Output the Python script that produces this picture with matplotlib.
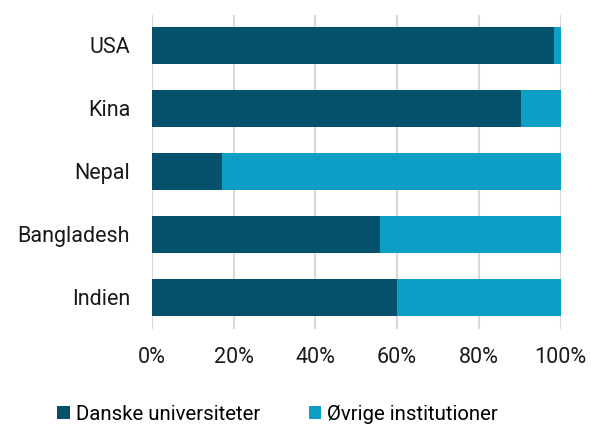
import matplotlib.pyplot as plt
from matplotlib.ticker import PercentFormatter

# Data (share in %), bottom to top
countries = ["Indien", "Bangladesh", "Nepal", "Kina", "USA"]
danske = [59.9, 55.8, 17.3, 90.4, 98.4]
ovrige = [100 - v for v in danske]

dark = "#05506b"
light = "#0c9ec5"

plt.rcParams['font.family'] = ['Roboto', 'DejaVu Sans']

fig = plt.figure(figsize=(5.91, 4.24), dpi=100)
ax = fig.add_axes([0.2567, 0.224, 0.692, 0.7406])

ax.barh(countries, danske, height=0.59, color=dark, label="Danske universiteter", zorder=3)
ax.barh(countries, ovrige, left=danske, height=0.59, color=light,
        label="Øvrige institutioner", zorder=3)

ax.set_xlim(0, 100)
ax.set_ylim(-0.5, 4.48)
ax.set_xticks([0, 20, 40, 60, 80, 100])
ax.xaxis.set_major_formatter(PercentFormatter(decimals=0))
ax.grid(axis='x', color='#d9d9d9', linewidth=1.5, zorder=0)
for s in ax.spines.values():
    s.set_visible(False)
ax.tick_params(axis='both', length=0, labelsize=15.5, colors='#1a1a1a')
ax.tick_params(axis='x', pad=13)
ax.tick_params(axis='y', pad=15.5)

fig.legend(loc='lower center', bbox_to_anchor=(0.47, 0.0), ncol=2, frameon=False,
           fontsize=14.7, handlelength=0.6, handleheight=0.6, handletextpad=0.3,
           columnspacing=2.4, borderaxespad=0.0, borderpad=0.0)

fig.savefig("out.png", dpi=100)
